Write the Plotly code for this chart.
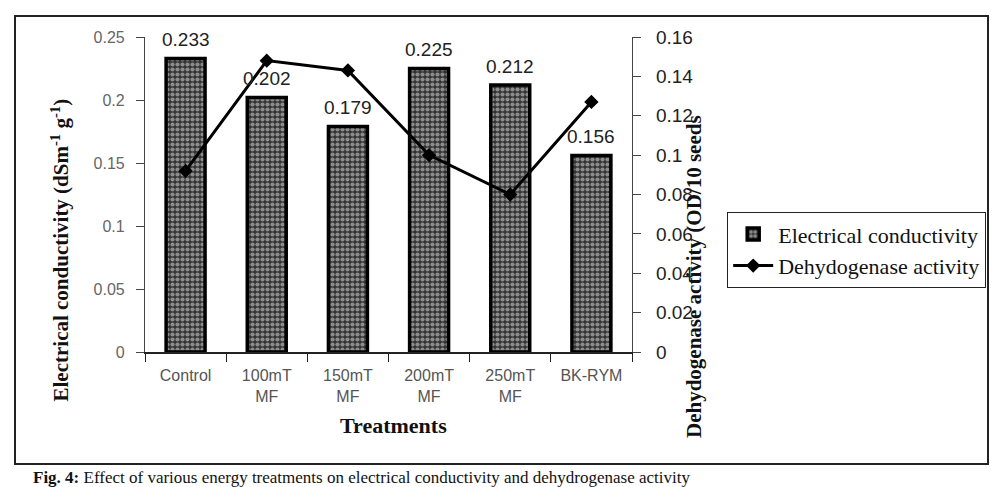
import plotly.graph_objects as go

categories = ["Control", "100mT<br>MF", "150mT<br>MF", "200mT<br>MF", "250mT<br>MF", "BK-RYM"]
ec_values = [0.233, 0.202, 0.179, 0.225, 0.212, 0.156]
ec_labels = ["0.233", "0.202", "0.179", "0.225", "0.212", "0.156"]
dha_values = [0.092, 0.148, 0.143, 0.100, 0.080, 0.127]

W, H = 992, 487
SERIF = "Liberation Serif"
SANS = "Liberation Sans"


def px(rx):
    return rx / W


def py(ry):
    return 1 - ry / H


fig = go.Figure()
fig.add_trace(go.Bar(
    x=categories, y=ec_values, name="Electrical conductivity",
    width=0.48,
    marker=dict(
        color="#333333",
        line=dict(color="black", width=3.5),
        pattern=dict(shape=".", bgcolor="#333333", fgcolor="#e6e6e6",
                     size=5, solidity=0.55, fillmode="overlay"),
    ),
    yaxis="y",
))
fig.add_trace(go.Scatter(
    x=categories, y=dha_values, name="Dehydogenase activity",
    mode="lines+markers",
    line=dict(color="black", width=3),
    marker=dict(symbol="diamond", size=11, color="black"),
    yaxis="y2", cliponaxis=False,
))

annotations = [
    dict(x=c, y=v, xref="x", yref="y", text=t, showarrow=False,
         yanchor="bottom", yshift=6,
         font=dict(family=SANS, size=19, color="#222"))
    for c, v, t in zip(categories, ec_values, ec_labels)
]
annotations += [
    dict(text="<b>Electrical conductivity (dSm<sup>-1</sup> g<sup>-1</sup>)</b>",
         xref="paper", yref="paper", x=px(45), y=py(250),
         textangle=-90, showarrow=False,
         font=dict(family=SERIF, size=21, color="#111")),
    dict(text="<b>Dehydogenase activity (OD/10 seeds</b>",
         xref="paper", yref="paper", x=px(708), y=py(277),
         textangle=-90, showarrow=False,
         font=dict(family=SERIF, size=21, color="#111")),
    dict(text="<b>Treatments</b>", xref="paper", yref="paper",
         x=px(393), y=py(440), showarrow=False,
         font=dict(family=SERIF, size=22, color="#111")),
    dict(text="<b>Fig. 4:</b> Effect of various energy treatments on electrical conductivity and dehydrogenase activity",
         xref="paper", yref="paper", x=px(31), y=py(477),
         xanchor="left", yanchor="middle", showarrow=False,
         font=dict(family=SERIF, size=17, color="#111")),
]

fig.update_layout(
    width=W, height=H,
    margin=dict(l=0, r=0, t=0, b=0, autoexpand=False),
    paper_bgcolor="white", plot_bgcolor="white",
    showlegend=True,
    xaxis=dict(
        domain=[px(145), px(632)], showline=True, linecolor="#222", linewidth=1.5,
        ticks="outside", ticklen=8, tickcolor="#222", tickson="boundaries",
        tickfont=dict(family=SANS, size=16, color="#555"),
        ticklabelstandoff=8, showgrid=False, zeroline=False, automargin=False,
    ),
    yaxis=dict(
        domain=[py(352), py(37)], range=[0, 0.25], dtick=0.05,
        showline=True, linecolor="#444", linewidth=1.2,
        ticks="outside", ticklen=8, tickcolor="#444",
        tickfont=dict(family=SANS, size=16, color="#666"),
        ticklabelstandoff=8, showgrid=False, zeroline=False, automargin=False,
    ),
    yaxis2=dict(
        overlaying="y", side="right", anchor="x", range=[0, 0.16], dtick=0.02,
        showline=True, linecolor="#444", linewidth=1.2,
        ticks="outside", ticklen=8, tickcolor="#444",
        tickfont=dict(family=SANS, size=19, color="#222"),
        ticklabelstandoff=11, showgrid=False, zeroline=False, automargin=False,
    ),
    legend=dict(
        x=px(727), y=py(212), xanchor="left", yanchor="top",
        bordercolor="#222", borderwidth=1.2, bgcolor="white",
        font=dict(family=SERIF, size=22, color="#111"),
        itemwidth=40,
    ),
    shapes=[dict(type="rect", xref="paper", yref="paper",
                 x0=px(15), x1=px(988), y0=py(464), y1=py(16),
                 line=dict(color="#222", width=2), fillcolor="rgba(0,0,0,0)")],
    annotations=annotations,
)

fig.write_html(
    "out.html",
    config={"displayModeBar": False},
    post_script="document.body.style.margin='0';document.body.style.overflow='hidden';",
)
